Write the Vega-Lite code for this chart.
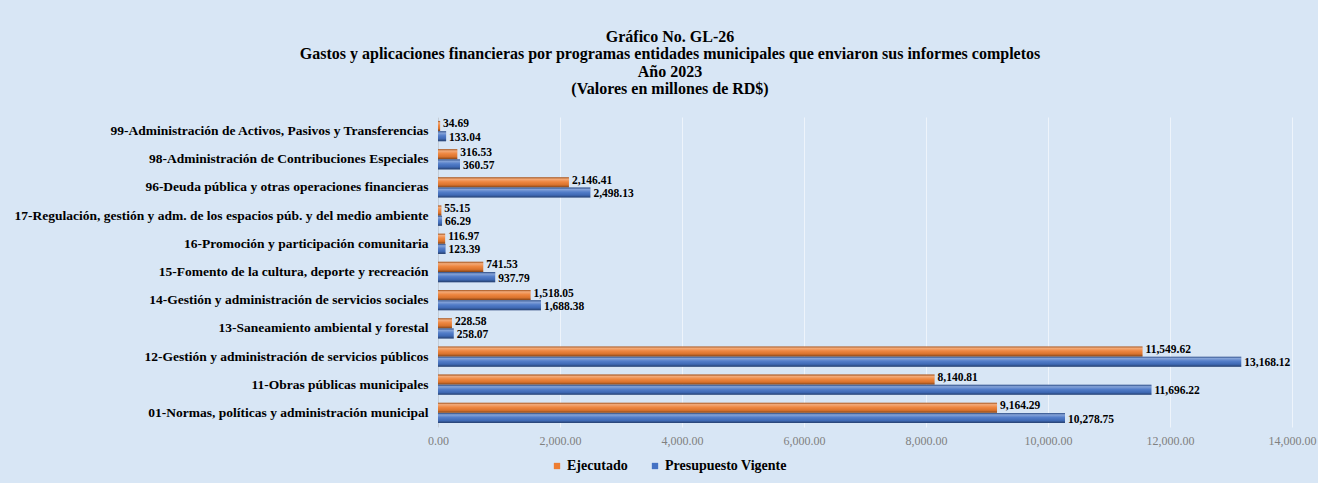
{
  "$schema": "https://vega.github.io/schema/vega-lite/v6.json",
  "width": 854,
  "height": 310,
  "autosize": "none",
  "padding": {"left": 438, "top": 117, "right": 26, "bottom": 56},
  "background": "#d8e6f5",
  "title": {
    "text": ["Gráfico No. GL-26", "Gastos y aplicaciones financieras por programas entidades municipales que enviaron sus informes completos", "Año 2023", "(Valores en millones de RD$)"],
    "font": "Liberation Serif",
    "fontSize": 16,
    "fontWeight": "bold",
    "color": "#000000",
    "lineHeight": 17.3,
    "anchor": "middle",
    "dx": -195,
    "offset": 20
  },
  "data": {
    "values": [
      {"programa": "99-Administración de Activos, Pasivos y Transferencias", "serie": "Ejecutado", "valor": 34.69},
      {"programa": "99-Administración de Activos, Pasivos y Transferencias", "serie": "Presupuesto Vigente", "valor": 133.04},
      {"programa": "98-Administración de Contribuciones Especiales", "serie": "Ejecutado", "valor": 316.53},
      {"programa": "98-Administración de Contribuciones Especiales", "serie": "Presupuesto Vigente", "valor": 360.57},
      {"programa": "96-Deuda pública y otras operaciones financieras", "serie": "Ejecutado", "valor": 2146.41},
      {"programa": "96-Deuda pública y otras operaciones financieras", "serie": "Presupuesto Vigente", "valor": 2498.13},
      {"programa": "17-Regulación, gestión y adm. de los espacios púb. y del medio ambiente", "serie": "Ejecutado", "valor": 55.15},
      {"programa": "17-Regulación, gestión y adm. de los espacios púb. y del medio ambiente", "serie": "Presupuesto Vigente", "valor": 66.29},
      {"programa": "16-Promoción y participación comunitaria", "serie": "Ejecutado", "valor": 116.97},
      {"programa": "16-Promoción y participación comunitaria", "serie": "Presupuesto Vigente", "valor": 123.39},
      {"programa": "15-Fomento de la cultura, deporte y recreación", "serie": "Ejecutado", "valor": 741.53},
      {"programa": "15-Fomento de la cultura, deporte y recreación", "serie": "Presupuesto Vigente", "valor": 937.79},
      {"programa": "14-Gestión y administración de servicios sociales", "serie": "Ejecutado", "valor": 1518.05},
      {"programa": "14-Gestión y administración de servicios sociales", "serie": "Presupuesto Vigente", "valor": 1688.38},
      {"programa": "13-Saneamiento ambiental y forestal", "serie": "Ejecutado", "valor": 228.58},
      {"programa": "13-Saneamiento ambiental y forestal", "serie": "Presupuesto Vigente", "valor": 258.07},
      {"programa": "12-Gestión y administración de servicios públicos", "serie": "Ejecutado", "valor": 11549.62},
      {"programa": "12-Gestión y administración de servicios públicos", "serie": "Presupuesto Vigente", "valor": 13168.12},
      {"programa": "11-Obras públicas municipales", "serie": "Ejecutado", "valor": 8140.81},
      {"programa": "11-Obras públicas municipales", "serie": "Presupuesto Vigente", "valor": 11696.22},
      {"programa": "01-Normas, políticas y administración municipal", "serie": "Ejecutado", "valor": 9164.29},
      {"programa": "01-Normas, políticas y administración municipal", "serie": "Presupuesto Vigente", "valor": 10278.75}
    ]
  },
  "encoding": {
    "y": {
      "field": "programa",
      "type": "nominal",
      "sort": null,
      "scale": {"paddingInner": 0.28, "paddingOuter": 0.14},
      "axis": {
        "title": null,
        "ticks": false,
        "domain": true,
        "domainColor": "#c4cdd8",
        "labelPadding": 10,
        "labelFont": "Liberation Serif",
        "labelFontWeight": "bold",
        "labelFontSize": 13.5,
        "labelColor": "#000000",
        "labelLimit": 500
      }
    },
    "yOffset": {"field": "serie", "type": "nominal", "sort": ["Ejecutado", "Presupuesto Vigente"], "scale": {"paddingInner": 0.02}},
    "x": {
      "field": "valor",
      "type": "quantitative",
      "scale": {"domain": [0, 14000], "nice": false},
      "axis": {
        "title": null,
        "values": [0, 2000, 4000, 6000, 8000, 10000, 12000, 14000],
        "format": ",.2f",
        "ticks": false,
        "domain": false,
        "grid": true,
        "gridColor": "#eef4fb",
        "gridWidth": 1,
        "labelFont": "Liberation Serif",
        "labelFontSize": 12,
        "labelColor": "#808080",
        "labelPadding": 8,
        "labelFlush": false
      }
    }
  },
  "layer": [
    {
      "mark": {"type": "bar"},
      "encoding": {
        "color": {
          "field": "serie",
          "type": "nominal",
          "sort": ["Ejecutado", "Presupuesto Vigente"],
          "scale": {"domain": ["Ejecutado", "Presupuesto Vigente"], "range": ["#ed7d31", "#4472c4"]},
          "legend": {
            "title": null,
            "orient": "none",
            "legendX": 112,
            "legendY": 342,
            "direction": "horizontal",
            "symbolType": "square",
            "symbolSize": 40,
            "symbolStrokeWidth": 0,
            "labelFont": "Liberation Serif",
            "labelFontWeight": "bold",
            "labelFontSize": 14,
            "labelColor": "#000000",
            "columnPadding": 20,
            "labelOffset": 3
          }
        }
      }
    },
    {
      "mark": {
        "type": "bar",
        "fill": {"gradient": "linear", "x1": 0, "y1": 0, "x2": 0, "y2": 1, "stops": [{"offset": 0, "color": "rgba(0,0,0,0.3)"}, {"offset": 0.18, "color": "rgba(255,255,255,0.35)"}, {"offset": 0.45, "color": "rgba(255,255,255,0.08)"}, {"offset": 0.75, "color": "rgba(0,0,0,0.08)"}, {"offset": 1, "color": "rgba(0,0,0,0.45)"}]}
      },
      "encoding": {}
    },
    {
      "transform": [{"filter": "datum.serie === 'Ejecutado'"}],
      "mark": {"type": "text", "align": "left", "baseline": "middle", "dx": 3, "dy": -1.5, "font": "Liberation Serif", "fontWeight": "bold", "fontSize": 11.5, "color": "#000000"},
      "encoding": {
        "text": {"field": "valor", "type": "quantitative", "format": ",.2f"}
      }
    },
    {
      "transform": [{"filter": "datum.serie === 'Presupuesto Vigente'"}],
      "mark": {"type": "text", "align": "left", "baseline": "middle", "dx": 3, "dy": 1.5, "font": "Liberation Serif", "fontWeight": "bold", "fontSize": 11.5, "color": "#000000"},
      "encoding": {
        "text": {"field": "valor", "type": "quantitative", "format": ",.2f"}
      }
    }
  ],
  "config": {
    "view": {"stroke": null},
    "axis": {"gridOpacity": 1}
  }
}
